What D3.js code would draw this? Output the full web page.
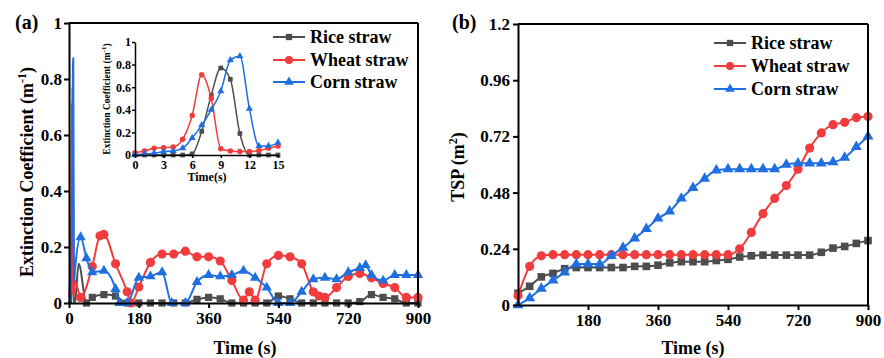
<!DOCTYPE html>
<html>
<head>
<meta charset="utf-8">
<script src="https://cdn.jsdelivr.net/npm/d3@7"></script>
<style>
  html, body { margin: 0; padding: 0; background: #fff; }
</style>
</head>
<body>
<svg id="chart" width="884" height="358"></svg>
<script>
// ---- panel (a): extinction coefficient, first 15 s (inset) ----
const insetTime = [0, 1, 2, 3, 4, 5, 6, 7, 8, 9, 10, 11, 12, 13, 14, 15];
const riceInset  = [0, 0, 0, 0, 0, 0, 0.01, 0.21, 0.53, 0.77, 0.67, 0.19, 0, 0, 0, 0];
const wheatInset = [0.02, 0.035, 0.06, 0.065, 0.07, 0.14, 0.35, 0.71, 0.50, 0.055, 0.035, 0.03, 0.03, 0.04, 0.06, 0.08];
const cornInset  = [0, 0.01, 0.015, 0.03, 0.035, 0.06, 0.15, 0.265, 0.40, 0.565, 0.84, 0.875, 0.41, 0.08, 0.08, 0.11];

// ---- panel (a): after 15 s ----
const riceTimeA  = [25, 45, 60, 90, 120, 150, 180, 210, 240, 270, 300, 330, 360, 390, 420, 450, 480, 510, 540, 570, 600, 630, 660, 690, 720, 750, 780, 810, 840, 870, 900];
const riceA      = [0.14, 0, 0.02, 0.03, 0.025, 0, 0, 0, 0, 0, 0, 0.013, 0.02, 0.015, 0, 0, 0, 0, 0.025, 0.015, 0, 0, 0, 0, 0, 0.005, 0.03, 0.02, 0.015, 0, 0];
const wheatTimeA = [30, 60, 80, 90, 120, 150, 160, 180, 210, 240, 270, 300, 330, 360, 390, 420, 450, 465, 480, 510, 540, 570, 600, 630, 645, 660, 690, 720, 750, 780, 810, 840, 870, 900];
const wheatA     = [0.02, 0.13, 0.24, 0.245, 0.14, 0.04, 0, 0.057, 0.145, 0.175, 0.175, 0.185, 0.165, 0.165, 0.15, 0.08, 0.01, 0.04, 0.01, 0.14, 0.17, 0.165, 0.14, 0.04, 0.025, 0.02, 0.055, 0.095, 0.105, 0.09, 0.07, 0.055, 0.02, 0.02];
const cornTimeA  = [30, 45, 60, 90, 120, 130, 150, 180, 210, 240, 265, 300, 330, 360, 390, 420, 450, 480, 510, 540, 570, 600, 630, 660, 690, 720, 750, 765, 780, 810, 840, 870, 900];
const cornA      = [0.235, 0.16, 0.11, 0.115, 0.05, 0, 0, 0.09, 0.095, 0.11, 0, 0, 0.075, 0.1, 0.095, 0.1, 0.115, 0.09, 0.055, 0, 0, 0.04, 0.085, 0.09, 0.085, 0.11, 0.125, 0.135, 0.1, 0.08, 0.1, 0.1, 0.1];

// ---- panel (b): TSP ----
const timeB  = d3.range(0, 901, 30);
const riceB  = [0.05, 0.08, 0.12, 0.135, 0.155, 0.16, 0.16, 0.16, 0.16, 0.16, 0.165, 0.165, 0.17, 0.18, 0.185, 0.185, 0.185, 0.19, 0.195, 0.205, 0.21, 0.213, 0.213, 0.213, 0.213, 0.213, 0.225, 0.243, 0.25, 0.263, 0.275];
const wheatB = [0.04, 0.165, 0.21, 0.215, 0.215, 0.215, 0.215, 0.215, 0.215, 0.215, 0.215, 0.215, 0.215, 0.215, 0.215, 0.215, 0.215, 0.215, 0.215, 0.24, 0.31, 0.39, 0.455, 0.51, 0.58, 0.67, 0.735, 0.77, 0.78, 0.80, 0.805];
const cornB  = [0, 0.03, 0.07, 0.105, 0.14, 0.175, 0.175, 0.175, 0.21, 0.245, 0.285, 0.325, 0.37, 0.40, 0.455, 0.50, 0.54, 0.575, 0.58, 0.58, 0.58, 0.58, 0.58, 0.60, 0.605, 0.605, 0.605, 0.61, 0.63, 0.675, 0.72];

// ticks
const xTicksA = [0, 180, 360, 540, 720, 900];
const yTicksA = [0, 0.2, 0.4, 0.6, 0.8, 1];
const xTicksB = [180, 360, 540, 720, 900];
const yTicksB = [0, 0.24, 0.48, 0.72, 0.96, 1.2];
const xTicksInset = [0, 3, 6, 9, 12, 15];
const yTicksInset = [0, 0.2, 0.4, 0.6, 0.8, 1];

const names = ["Rice straw", "Wheat straw", "Corn straw"];
const colors = ["#4d4d4d", "#f03c3c", "#1f6fe0"];
const shapes = [d3.symbolSquare, d3.symbolCircle, d3.symbolTriangle];

const FONT = '"Liberation Serif", "Times New Roman", serif';
const svg = d3.select("#chart");
svg.append("rect").attr("width", 884).attr("height", 358).attr("fill", "#fff");

const zip = (ts, vs) => ts.map((t, i) => ({ t: t, v: vs[i] }));
const fmtTick = d => (d === 0 || d === 1) ? String(d) : String(d);

function styleAxis(g, size, lw) {
  g.attr("font-family", null).attr("font-size", null);
  g.select(".domain").attr("stroke", "#000").attr("stroke-width", lw);
  g.selectAll(".tick line").attr("stroke", "#000").attr("stroke-width", lw);
  g.selectAll(".tick text").attr("fill", "#000")
    .style("font-family", FONT).style("font-weight", "bold").style("font-size", size + "px");
}

function drawSeries(g, x, y, pts, i, lw, sizes, markIf) {
  const line = d3.line().x(d => x(d.t)).y(d => y(d.v)).curve(d3.curveMonotoneX);
  g.append("path").datum(pts)
    .attr("fill", "none").attr("stroke", colors[i]).attr("stroke-width", lw)
    .attr("stroke-linejoin", "round").attr("d", line);
  g.selectAll(null).data(pts.filter(markIf)).enter().append("path")
    .attr("d", d3.symbol(shapes[i], sizes[i]))
    .attr("transform", d => "translate(" + x(d.t) + "," + y(d.v) + ")")
    .attr("fill", colors[i]);
}

function label(x, y, text, size, anchor, rotate) {
  const t = svg.append("text")
    .attr("transform", "translate(" + x + "," + y + ")" + (rotate ? " rotate(-90)" : ""))
    .attr("text-anchor", anchor || "start")
    .style("font-family", FONT).style("font-weight", "bold").style("font-size", size + "px")
    .attr("fill", "#000");
  return t;
}

function legend(x0, rows, sizes) {
  names.forEach((n, i) => {
    const yy = rows[i];
    svg.append("line").attr("x1", x0).attr("x2", x0 + 32).attr("y1", yy).attr("y2", yy)
      .attr("stroke", colors[i]).attr("stroke-width", 2);
    svg.append("path").attr("d", d3.symbol(shapes[i], sizes[i]))
      .attr("transform", "translate(" + (x0 + 16) + "," + yy + ")").attr("fill", colors[i]);
    label(x0 + 37, yy + 6, n, 18).text(n);
  });
}

// ================= panel (a) =================
const xA = d3.scaleLinear().domain([0, 900]).range([69, 418]);
const yA = d3.scaleLinear().domain([0, 1]).range([303, 23]);
const gA = svg.append("g");

const mainSeries = [
  zip(insetTime, riceInset).concat(zip(riceTimeA, riceA)),
  zip(insetTime, wheatInset).concat(zip(wheatTimeA, wheatA)),
  zip(insetTime, cornInset).concat(zip(cornTimeA, cornA))
];
mainSeries.forEach((pts, i) => drawSeries(gA, xA, yA, pts, i, 2, [52, 66, 46], d => d.t >= 30));

gA.append("line").attr("x1", xA(0)).attr("x2", xA(900)).attr("y1", yA(1)).attr("y2", yA(1)).attr("stroke", "#000").attr("stroke-width", 2);
gA.append("line").attr("x1", xA(900)).attr("x2", xA(900)).attr("y1", yA(1)).attr("y2", yA(0)).attr("stroke", "#000").attr("stroke-width", 2);
gA.append("g").attr("transform", "translate(0," + yA(0) + ")")
  .call(d3.axisBottom(xA).tickValues(xTicksA).tickSize(5).tickPadding(4).tickSizeOuter(0))
  .call(g => styleAxis(g, 17, 2));
gA.append("g").attr("transform", "translate(" + xA(0) + ",0)")
  .call(d3.axisLeft(yA).tickValues(yTicksA).tickFormat(fmtTick).tickSize(5).tickPadding(2).tickSizeOuter(0))
  .call(g => styleAxis(g, 17, 2));

// inset
const xI = d3.scaleLinear().domain([0, 15]).range([135, 278]);
const yI = d3.scaleLinear().domain([0, 1]).range([155, 42]);
const gI = svg.append("g");
[riceInset, wheatInset, cornInset].forEach((vs, i) =>
  drawSeries(gI, xI, yI, zip(insetTime, vs), i, 1.5, [22, 24, 22], () => true));
gI.append("g").attr("transform", "translate(0," + yI(0) + ")")
  .call(d3.axisBottom(xI).tickValues(xTicksInset).tickSize(3).tickPadding(2).tickSizeOuter(0))
  .call(g => styleAxis(g, 12, 1.5));
gI.append("g").attr("transform", "translate(" + xI(0) + ",0)")
  .call(d3.axisLeft(yI).tickValues(yTicksInset).tickFormat(fmtTick).tickSize(3).tickPadding(1).tickSizeOuter(0))
  .call(g => styleAxis(g, 12, 1.5));

const insetY = label(110, 99, "", 9.5, "middle", true);
insetY.append("tspan").text("Extinction Coefficient (m");
insetY.append("tspan").attr("dy", -4).style("font-size", "7px").text("-1");
insetY.append("tspan").attr("dy", 4).text(")");
label(207, 181, "", 12, "middle").text("Time(s)");

legend(273, [37, 60, 82], [40, 50, 40]);

label(15, 29, "", 20).text("(a)");
const yTitleA = label(33, 172, "", 18, "middle", true);
yTitleA.append("tspan").text("Extinction Coefficient (m");
yTitleA.append("tspan").attr("dy", -7).style("font-size", "12px").text("-1");
yTitleA.append("tspan").attr("dy", 7).text(")");
label(245, 354, "", 18, "middle").text("Time (s)");

// ================= panel (b) =================
const xB = d3.scaleLinear().domain([0, 900]).range([518, 868]);
const yB = d3.scaleLinear().domain([0, 1.2]).range([305, 24]);
const gB = svg.append("g");

[riceB, wheatB, cornB].forEach((vs, i) =>
  drawSeries(gB, xB, yB, zip(timeB, vs), i, 2, [58, 66, 52], () => true));

gB.append("line").attr("x1", xB(0)).attr("x2", xB(900)).attr("y1", yB(1.2)).attr("y2", yB(1.2)).attr("stroke", "#000").attr("stroke-width", 2);
gB.append("line").attr("x1", xB(900)).attr("x2", xB(900)).attr("y1", yB(1.2)).attr("y2", yB(0)).attr("stroke", "#000").attr("stroke-width", 2);
gB.append("g").attr("transform", "translate(0," + yB(0) + ")")
  .call(d3.axisBottom(xB).tickValues(xTicksB).tickSize(5).tickPadding(4).tickSizeOuter(0))
  .call(g => styleAxis(g, 17, 2));
gB.append("g").attr("transform", "translate(" + xB(0) + ",0)")
  .call(d3.axisLeft(yB).tickValues(yTicksB).tickFormat(fmtTick).tickSize(5).tickPadding(3).tickSizeOuter(0))
  .call(g => styleAxis(g, 17, 2));

legend(714, [43, 66, 89], [40, 50, 40]);

label(452, 29, "", 20).text("(b)");
const yTitleB = label(464, 167, "", 18, "middle", true);
yTitleB.append("tspan").text("TSP (m");
yTitleB.append("tspan").attr("dy", -7).style("font-size", "12px").text("2");
yTitleB.append("tspan").attr("dy", 7).text(")");
label(693, 354, "", 18, "middle").text("Time (s)");
</script>
</body>
</html>
